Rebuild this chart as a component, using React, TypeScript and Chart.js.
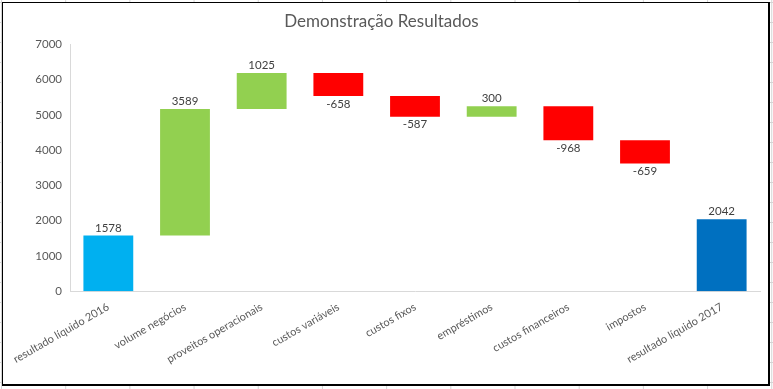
import React, { useEffect, useRef } from "react";
import { Chart, registerables } from "chart.js";

Chart.register(...registerables);

const chartTitle = "Demonstração Resultados";
const categories = [
  "resultado líquido 2016",
  "volume negócios",
  "proveitos operacionais",
  "custos variáveis",
  "custos fixos",
  "empréstimos",
  "custos financeiros",
  "impostos",
  "resultado líquido 2017",
];
const values = [1578, 3589, 1025, -658, -587, 300, -968, -659, 2042];
const isTotal = [true, false, false, false, false, false, false, false, true];
const yMin = 0;
const yMax = 7000;
const yStep = 1000;

const COLOR_START = "#00B0F0";
const COLOR_END = "#0070C0";
const COLOR_UP = "#92D050";
const COLOR_DOWN = "#FF0000";
const FONT = "Lato, 'Open Sans', sans-serif";

function buildRanges(): [number, number][] {
  let running = 0;
  return values.map((v, i) => {
    if (isTotal[i]) {
      running = v;
      return [0, v];
    }
    const start = running;
    running = running + v;
    return [start, running];
  });
}

function buildColors(): string[] {
  return values.map((v, i) => {
    if (isTotal[i]) return i === 0 ? COLOR_START : COLOR_END;
    return v >= 0 ? COLOR_UP : COLOR_DOWN;
  });
}

const valueLabels = {
  id: "valueLabels",
  afterDatasetsDraw(chart: any) {
    const ctx = chart.ctx;
    const meta = chart.getDatasetMeta(0);
    ctx.save();
    ctx.font = `11.5px ${FONT}`;
    ctx.fillStyle = "#404040";
    ctx.textAlign = "center";
    meta.data.forEach((el: any, i: number) => {
      const { x, y, base } = el.getProps(["x", "y", "base"], true);
      const top = Math.min(y, base);
      const bottom = Math.max(y, base);
      if (values[i] < 0) {
        ctx.textBaseline = "top";
        ctx.fillText(String(values[i]), x, bottom + 2);
      } else {
        ctx.textBaseline = "bottom";
        ctx.fillText(String(values[i]), x, top - 2);
      }
    });
    ctx.restore();
  },
};

export default function App() {
  const canvasRef = useRef<HTMLCanvasElement | null>(null);

  useEffect(() => {
    document.body.style.margin = "0";
    const canvas = canvasRef.current;
    if (!canvas) return;
    const chart = new Chart(canvas, {
      type: "bar",
      data: {
        labels: categories,
        datasets: [
          {
            data: buildRanges() as any,
            backgroundColor: buildColors(),
            borderWidth: 0,
            borderSkipped: false,
            barPercentage: 0.65,
            categoryPercentage: 1,
          },
        ],
      },
      options: {
        animation: false,
        responsive: false,
        maintainAspectRatio: false,
        layout: { padding: { left: 0, right: 8, top: 0, bottom: 9 } },
        plugins: {
          legend: { display: false },
          tooltip: { enabled: false },
          title: {
            display: true,
            text: chartTitle,
            color: "#595959",
            font: { family: FONT, size: 17, weight: "normal" },
            padding: { top: 8, bottom: 13 },
          },
        },
        scales: {
          x: {
            grid: { display: false, drawTicks: false },
            border: { display: true, color: "#d9d9d9", width: 1 },
            ticks: {
              color: "#595959",
              font: { family: FONT, size: 11 },
              minRotation: 30,
              maxRotation: 30,
              autoSkip: false,
              padding: 9,
            },
            afterFit(scale: any) {
              scale.paddingLeft = 0;
              scale.paddingRight = 0;
            },
          },
          y: {
            min: yMin,
            max: yMax,
            grid: { display: false, drawTicks: false },
            border: { display: true, color: "#d9d9d9", width: 1 },
            ticks: {
              stepSize: yStep,
              color: "#595959",
              font: { family: FONT, size: 11.5 },
              padding: 8,
              callback: (v: any) => String(v),
            },
            afterFit(scale: any) {
              scale.width = 67;
            },
          },
        },
      },
      plugins: [valueLabels],
    });
    return () => chart.destroy();
  }, []);

  return (
    <div
      style={{
        position: "relative",
        width: 773,
        height: 389,
        overflow: "hidden",
        backgroundColor: "#ffffff",
        backgroundImage:
          "linear-gradient(to right, #d4d4d4 1px, transparent 1px), linear-gradient(to bottom, #d4d4d4 1px, transparent 1px)",
        backgroundSize: "64.2px 20px",
        backgroundPosition: "1px 2px",
      }}
    >
      <div
        style={{
          position: "absolute",
          left: 2,
          top: 2,
          width: 765,
          height: 381,
          background: "#ffffff",
          borderLeft: "1px solid #000",
          borderTop: "1px solid #000",
          borderRight: "2px solid #000",
          borderBottom: "2px solid #000",
        }}
      >
        <canvas ref={canvasRef} width={765} height={381} style={{ display: "block" }} />
      </div>
    </div>
  );
}
